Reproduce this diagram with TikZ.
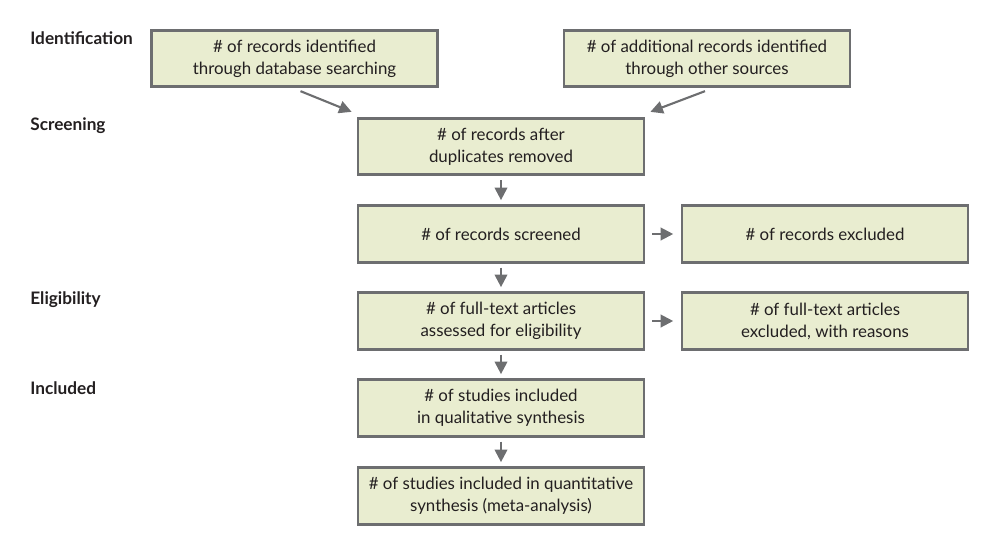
\documentclass[tikz,border=0pt]{standalone}
\usepackage{fontspec}
\setmainfont{Lato}
\usepackage{tikz}
\usetikzlibrary{arrows.meta,positioning,calc}
\usepackage{xcolor}
\definecolor{boxfill}{HTML}{E9EDD0}
\definecolor{boxline}{HTML}{6D6E70}
\definecolor{ink}{HTML}{231F20}
\tikzset{
  >={Triangle[length=2.5mm,width=2.5mm]},
  every node/.style={font=\fontsize{9.6}{12.6}\selectfont,text=ink},
  box/.style={draw=boxline,line width=1.6pt,fill=boxfill,align=center,minimum width=57.2mm,minimum height=11.3mm,inner sep=2pt},
  phase/.style={anchor=west,inner sep=0pt,font=\fontsize{9.8}{12}\selectfont\bfseries},
  arrow/.style={->,line width=1.2pt,draw=boxline},
}

\begin{document}
\begin{tikzpicture}
\useasboundingbox (0,0) rectangle (20,-11.1);

% ---------- phases ----------
\node[phase] (pid) at (0.6,-0.76) {Identification};
\node[phase] (psc) at (0.6,-2.52) {Screening};
\node[phase] (pel) at (0.6,-6.0) {Eligibility};
\node[phase] (pin) at (0.6,-7.76) {Included};

% ---------- boxes ----------
\node[box] (db) at (5.89,-1.17) {\# of records identified\\through database searching};
\node[box] (other) at (14.14,-1.17) {\# of additional records identified\\through other sources};
\node[box] (dup) at (10.02,-2.93) {\# of records after\\duplicates removed};
\node[box] (scr) at (10.02,-4.68) {\# of records screened};
\node[box] (excl) at (16.5,-4.68) {\# of records excluded};
\node[box] (full) at (10.02,-6.42) {\# of full-text articles\\assessed for eligibility};
\node[box] (fexcl) at (16.5,-6.42) {\# of full-text articles\\excluded, with reasons};
\node[box] (qual) at (10.02,-8.16) {\# of studies included\\in qualitative synthesis};
\node[box] (quant) at (10.02,-9.92) {\# of studies included in quantitative\\synthesis (meta-analysis)};

% ---------- arrows ----------
\draw[arrow] ($(db.south)+(0.12,-0.06)$) -- ($(dup.north west)+(-0.1,0.1)$);
\draw[arrow] ($(other.south)+(-0.04,-0.06)$) -- ($(dup.north east)+(0.1,0.1)$);
\foreach \a/\b in {dup/scr,scr/full,full/qual,qual/quant}
  {\draw[arrow,shorten <=2.2pt,shorten >=2.4pt] (\a) -- (\b);}
\foreach \a/\b in {scr/excl,full/fexcl}
  {\draw[arrow,shorten <=3.8pt,shorten >=4.2pt] (\a) -- (\b);}

\end{tikzpicture}
\end{document}
